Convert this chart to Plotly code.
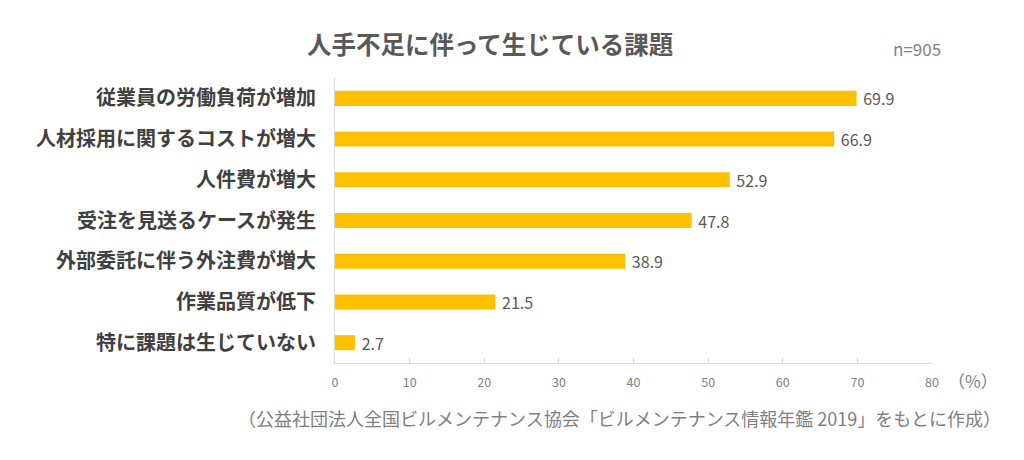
import plotly.graph_objects as go

categories = ["従業員の労働負荷が増加", "人材採用に関するコストが増大", "人件費が増大",
              "受注を見送るケースが発生", "外部委託に伴う外注費が増大", "作業品質が低下",
              "特に課題は生じていない"]
values = [69.9, 66.9, 52.9, 47.8, 38.9, 21.5, 2.7]
tick_vals = [0, 10, 20, 30, 40, 50, 60, 70, 80]

FONT = "Noto Sans CJK JP"

fig = go.Figure(go.Bar(
    y=categories, x=values, orientation="h",
    marker=dict(color="#FFC000", line=dict(width=0)),
    width=0.37,
    text=["\u00a0" + f"{v:.1f}" for v in values], textposition="outside",
    constraintext="none",
    textfont=dict(family=FONT, size=16, color="#595959"),
    cliponaxis=False,
))

fig.update_layout(
    width=1024, height=460,
    margin=dict(l=327, r=100, t=70, b=105, autoexpand=False),
    paper_bgcolor="white", plot_bgcolor="white",
    showlegend=False,
    xaxis=dict(range=[0, 80], tickvals=tick_vals, showgrid=False, zeroline=False,
               automargin=False,
               showline=True, linecolor="#d9d9d9", linewidth=1,
               ticks="inside", ticklen=5, tickcolor="#d9d9d9",
               ticklabelstandoff=8,
               tickfont=dict(family=FONT, size=12.5, color="#7f7f7f")),
    yaxis=dict(autorange="reversed", showgrid=False, zeroline=False,
               automargin=False,
               showline=True, linecolor="#d9d9d9", linewidth=1, ticks="",
               ticklabelstandoff=14,
               tickfont=dict(family=FONT, size=20, color="#404040", weight="bold")),
    annotations=[
        dict(text="人手不足に伴って生じている課題", xref="paper", yref="paper",
             x=0.26, y=1.12, showarrow=False, xanchor="center", yanchor="middle",
             font=dict(family=FONT, size=24.5, color="#595959", weight="bold")),
        dict(text="n=905", xref="paper", yref="paper", x=0.975, y=1.105,
             showarrow=False, xanchor="center", yanchor="middle",
             font=dict(family=FONT, size=17, color="#7f7f7f")),
        dict(text="（%）", xref="paper", yref="paper", x=1.069, y=-0.063,
             showarrow=False, xanchor="center", yanchor="middle",
             font=dict(family=FONT, size=17, color="#7f7f7f")),
        dict(text="（公益社団法人全国ビルメンテナンス協会「ビルメンテナンス情報年鑑 2019」をもとに作成）",
             xref="paper", yref="paper", x=0.4765, y=-0.193, showarrow=False,
             xanchor="center", yanchor="middle",
             font=dict(family=FONT, size=18, color="#7f7f7f")),
    ],
)

fig.write_html("out.html")
